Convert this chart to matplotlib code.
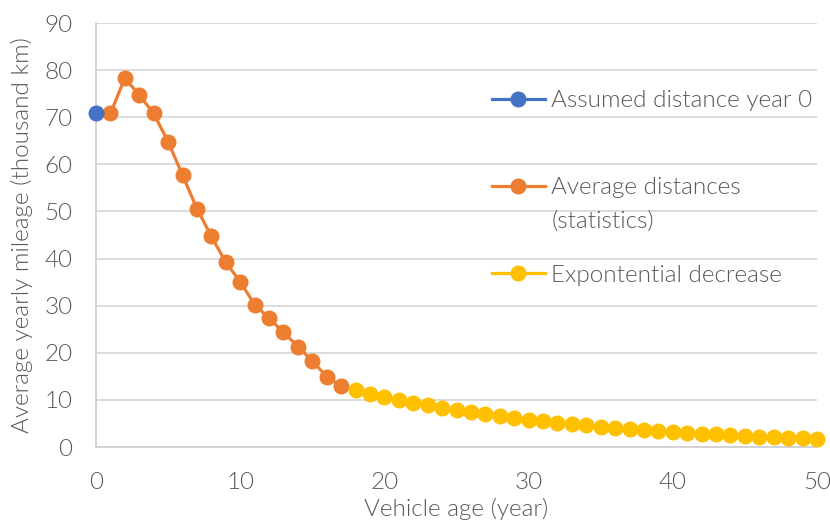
import matplotlib.pyplot as plt

# values (thousand km)
assumed_years = [0]
assumed_km = [70.8]

stat_years = list(range(1, 18))
stat_km = [70.8, 78.3, 74.7, 70.8, 64.8, 57.7, 50.6, 44.7, 39.2, 35.1,
           30.2, 27.3, 24.4, 21.3, 18.3, 14.9, 12.9]

exp_years = list(range(18, 51))
exp_km = [12.0, 11.3, 10.6, 10.0, 9.4, 8.9, 8.3, 7.9, 7.4, 7.0,
          6.6, 6.2, 5.8, 5.5, 5.2, 4.9, 4.6, 4.3, 4.1, 3.8,
          3.6, 3.4, 3.2, 3.0, 2.8, 2.7, 2.5, 2.4, 2.2, 2.1,
          2.0, 1.9, 1.7]

x_ticks = [0, 10, 20, 30, 40, 50]
y_ticks = [0, 10, 20, 30, 40, 50, 60, 70, 80, 90]

plt.rcParams['font.family'] = ['Lato', 'DejaVu Sans']
plt.rcParams['font.weight'] = 300
plt.rcParams['axes.labelweight'] = 300
text_color = '#595959'
fs = 17.5


def main():
    fig = plt.figure(figsize=(8.3, 5.23), dpi=100)
    ax = fig.add_axes([96 / 830, 1 - 447 / 523, (817 - 96) / 830, (447 - 23) / 523])

    style = dict(marker='o', markersize=10.5, linewidth=2.3, clip_on=False)
    ax.plot(stat_years, stat_km, color='#ED7D31', label='Average distances', zorder=3, **style)
    ax.plot(exp_years, exp_km, color='#FFC000', label='Expontential decrease', zorder=4, **style)
    ax.plot(assumed_years, assumed_km, color='#4472C4', label='Assumed distance year 0', zorder=5, **style)

    ax.set_xlim(0, 50)
    ax.set_ylim(0, 90)
    ax.set_xticks(x_ticks)
    ax.set_yticks(y_ticks)
    ax.grid(axis='y', color='#D9D9D9', linewidth=1.3)
    ax.set_axisbelow(True)
    for side in ['top', 'right']:
        ax.spines[side].set_visible(False)
    for side in ['left', 'bottom']:
        ax.spines[side].set_color('#D0D0D0')
        ax.spines[side].set_linewidth(1.3)
    ax.tick_params(length=0, labelsize=fs, colors=text_color, pad=17)
    ax.tick_params(axis='x', pad=18)

    ax.set_xlabel('Vehicle age (year)', fontsize=fs, color=text_color)
    ax.set_ylabel('Average yearly mileage (thousand km)', fontsize=fs, color=text_color)
    ax.xaxis.set_label_coords(0.5, -0.12)
    ax.yaxis.set_label_coords(-0.087, 0.5)

    handles, labels = ax.get_legend_handles_labels()
    order = [2, 0, 1]
    leg = ax.legend([handles[i] for i in order], [labels[i] for i in order],
                    loc='upper left', bbox_to_anchor=(0.532, 0.87), frameon=False,
                    fontsize=fs, labelcolor=text_color, handlelength=2.2,
                    handletextpad=0.25, labelspacing=2.72, borderpad=0)

    # second line of the middle legend entry sits under its first line
    fig.canvas.draw()
    t = leg.get_texts()[1]
    bb = t.get_window_extent()
    fig.text(bb.x0 / fig.bbox.width, (bb.y0 - 33) / fig.bbox.height, '(statistics)',
             fontsize=fs, color=text_color, ha='left', va='bottom')

    fig.savefig('out.png', dpi=100)


if __name__ == '__main__':
    main()
